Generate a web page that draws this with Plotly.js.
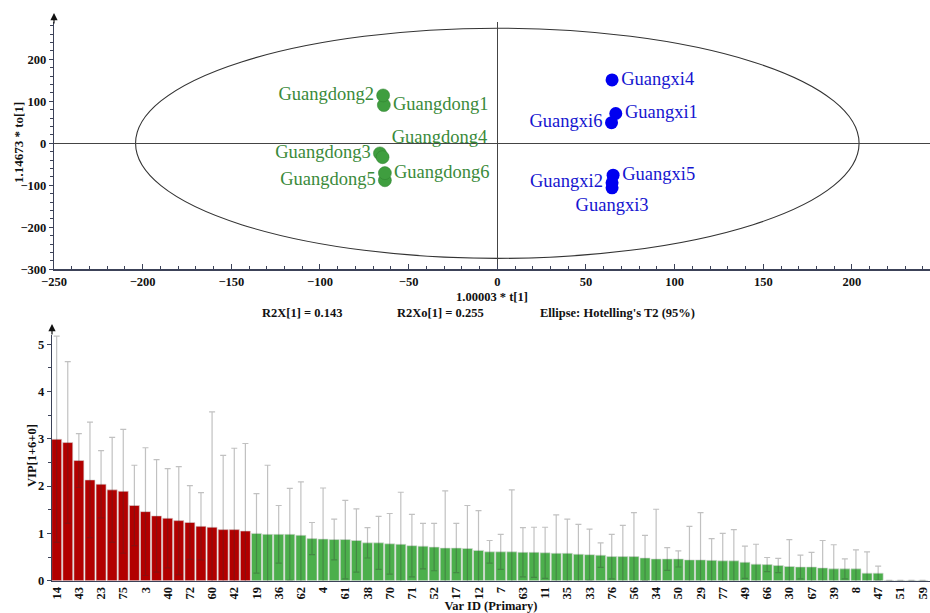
<!DOCTYPE html>
<html>
<head>
<meta charset="utf-8">
<script src="https://cdn.plot.ly/plotly-3.0.1.min.js"></script>
<style>html,body{margin:0;padding:0;background:#fff;}#chart{width:930px;height:613px;}</style>
</head>
<body>
<div id="chart"></div>
<script>
// ---- Score plot data ----
const gdNames = ['Guangdong1','Guangdong2','Guangdong3','Guangdong4','Guangdong5','Guangdong6'];
const gdT = [-64.0, -64.4, -66.2, -64.7, -63.4, -63.4];
const gdTo = [91, 114, -24, -33, -88, -71];
const gdPos = ['middle right','middle left','middle left','top right','middle left','middle right'];

const gxNames = ['Guangxi1','Guangxi2','Guangxi3','Guangxi4','Guangxi5','Guangxi6'];
const gxT = [66.8, 64.7, 64.7, 64.7, 65.3, 64.4];
const gxTo = [71, -94, -106, 151, -76, 49];
const gxPos = ['middle right','middle left','bottom center','middle right','middle right','middle left'];

const ellipseT = 204;   // Hotelling's T2 (95%) semi-axis on t[1]
const ellipseTo = 274;  // semi-axis on to[1]

// ---- VIP data ----
const vipTickLabels = ['14','43','23','75','3','40','72','60','42','19','36','62','4','61','38','70','71','52','17','12',
  '7','63','11','35','33','76','56','34','50','29','77','49','66','30','67','39','8','47','51','59'];
const vipValues = [2.99,2.92,2.54,2.13,2.04,1.92,1.89,1.59,1.46,1.37,
  1.32,1.27,1.23,1.15,1.13,1.08,1.08,1.05,1.00,0.98,
  0.98,0.98,0.96,0.89,0.88,0.87,0.87,0.85,0.80,0.80,
  0.78,0.77,0.74,0.73,0.71,0.69,0.69,0.68,0.64,0.61,
  0.61,0.61,0.60,0.60,0.59,0.58,0.58,0.56,0.55,0.54,
  0.51,0.51,0.51,0.48,0.46,0.46,0.46,0.44,0.44,0.43,
  0.42,0.42,0.39,0.35,0.34,0.32,0.30,0.29,0.29,0.27,
  0.25,0.25,0.25,0.16,0.16,0.005,0.005,0.005,0.005];
const vipCI = [2.18,1.71,0.57,1.22,0.71,1.11,1.31,0.85,1.35,1.19,
  1.05,1.14,0.78,0.71,2.44,1.57,1.72,1.85,0.84,1.46,
  0.61,0.97,1.13,0.34,1.08,0.43,0.83,0.67,0.32,0.56,
  0.64,1.10,0.66,0.48,0.50,1.21,0.52,0.91,0.84,0.24,
  0.37,1.31,0.52,0.53,0.54,0.81,0.72,0.63,0.54,0.26,
  0.47,0.66,0.93,0.48,1.05,0.24,0.17,0.71,1.00,0.46,
  0.58,0.66,0.34,0.42,0.15,0.15,0.57,0.25,0.31,0.58,
  0.51,0.21,0.40,0.45,0.15,0,0,0,0];

const SERIF = 'Liberation Serif, Times New Roman, serif';
const RED = '#b20000', GREEN = '#4caf4c', AX = '#3c4258';

const idx = vipValues.map((v,i)=>i);
const tickIdx = vipTickLabels.map((t,i)=>i*2);
const barColors = vipValues.map(v => v > 1 ? RED : GREEN);

const W = 930, H = 613;
const px = x => x / W, py = y => 1 - y / H;
const TF = {family:SERIF, size:12.5, color:'#111', weight:'bold'};

const traces = [
  {type:'scatter', mode:'markers+text', x:gdT, y:gdTo, text:gdNames, textposition:gdPos,
   marker:{size:13, color:'#3f9e3f', line:{color:'#2f7f2f', width:0.5}},
   textfont:{family:SERIF, size:18.5, color:'#3a8a3a'}, xaxis:'x', yaxis:'y', cliponaxis:false, hoverinfo:'none'},
  {type:'scatter', mode:'markers+text', x:gxT, y:gxTo, text:gxNames, textposition:gxPos,
   marker:{size:13, color:'#0000f0'},
   textfont:{family:SERIF, size:18.5, color:'#1515d0'}, xaxis:'x', yaxis:'y', cliponaxis:false, hoverinfo:'none'},
  {type:'bar', x:idx, y:vipValues, xaxis:'x2', yaxis:'y2', width:0.9,
   marker:{color:barColors, line:{color:'#d8d8d8', width:0.6}},
   error_y:{type:'data', array:vipCI, symmetric:true, color:'rgba(50,50,50,0.3)', thickness:1.2, width:3},
   hoverinfo:'none'}
];

const layout = {
  width: W, height: H, margin:{l:0, r:0, t:0, b:0},
  paper_bgcolor:'#fff', plot_bgcolor:'#fff', showlegend:false,
  font:{family:SERIF, size:12, color:'#111'},
  xaxis:{domain:[px(54), 1], range:[-250, 244], anchor:'y',
    showgrid:false, zeroline:true, zerolinecolor:'#444', zerolinewidth:1,
    showline:true, linecolor:AX, linewidth:1.2,
    ticks:'inside', ticklen:5, tickcolor:AX, dtick:50, tick0:0,
    minor:{ticks:'inside', ticklen:3, dtick:10, tickcolor:AX, showgrid:false},
    tickfont:TF,
    title:{text:'<b>1.00003 * t[1]</b>', font:{family:SERIF, size:12.5}, standoff:4}},
  yaxis:{domain:[py(269.3), py(21.5)], range:[-300, 290], anchor:'x',
    showgrid:false, zeroline:true, zerolinecolor:'#444', zerolinewidth:1,
    showline:true, linecolor:AX, linewidth:1.2,
    ticks:'outside', ticklen:4, tickcolor:AX, dtick:100, tick0:0,
    minor:{ticks:'outside', ticklen:3, dtick:20, tickcolor:AX, showgrid:false},
    tickfont:TF},
  xaxis2:{domain:[px(52), 1], range:[-0.42, 78.67], anchor:'y2',
    showgrid:false, zeroline:false, showline:true, linecolor:AX, linewidth:1.2,
    ticks:'', tickmode:'array', tickvals:tickIdx, ticktext:vipTickLabels, tickangle:-90,
    tickfont:TF,
    title:{text:'<b>Var ID (Primary)</b>', font:{family:SERIF, size:12.5}, standoff:2}},
  yaxis2:{domain:[py(580.7), py(334.7)], range:[0, 5.2], anchor:'x2',
    showgrid:false, zeroline:false, showline:true, linecolor:AX, linewidth:1.2,
    ticks:'outside', ticklen:4, tickcolor:AX, dtick:1, tick0:0,
    minor:{ticks:'outside', ticklen:3, dtick:0.5, tickcolor:AX, showgrid:false},
    tickfont:TF},
  shapes:[
    {type:'circle', xref:'x', yref:'y', x0:-ellipseT, x1:ellipseT, y0:-ellipseTo, y1:ellipseTo,
     line:{color:'#333', width:1.1}, layer:'below'}
  ],
  annotations:[
    {xref:'paper', yref:'paper', x:px(18), y:py(143), xanchor:'center', yanchor:'middle', text:'<b>1.14673 * to[1]</b>', textangle:-90, showarrow:false, font:{family:SERIF, size:13, color:'#111'}},
    {xref:'paper', yref:'paper', x:px(32), y:py(456), xanchor:'center', yanchor:'middle', text:'<b>VIP[1+6+0]</b>', textangle:-90, showarrow:false, font:{family:SERIF, size:12.5, color:'#111'}},
    {xref:'paper', yref:'paper', x:px(302), y:py(313), xanchor:'center', text:'<b>R2X[1] = 0.143</b>', showarrow:false, font:{family:SERIF, size:12.5, color:'#111'}},
    {xref:'paper', yref:'paper', x:px(440), y:py(313), xanchor:'center', text:'<b>R2Xo[1] = 0.255</b>', showarrow:false, font:{family:SERIF, size:12.5, color:'#111'}},
    {xref:'paper', yref:'paper', x:px(617), y:py(313), xanchor:'center', text:"<b>Ellipse: Hotelling's T2 (95%)</b>", showarrow:false, font:{family:SERIF, size:12.5, color:'#111'}},
    {xref:'paper', yref:'paper', x:px(54), y:py(13), ax:0, ay:12, text:'', showarrow:true, arrowhead:2, arrowsize:1.2, arrowwidth:1.2, arrowcolor:'#111'},
    {xref:'paper', yref:'paper', x:px(52), y:py(324), ax:0, ay:12, text:'', showarrow:true, arrowhead:2, arrowsize:1.2, arrowwidth:1.2, arrowcolor:'#111'}
  ]
};

Plotly.newPlot('chart', traces, layout, {staticPlot:true, displayModeBar:false});
</script>
</body>
</html>
